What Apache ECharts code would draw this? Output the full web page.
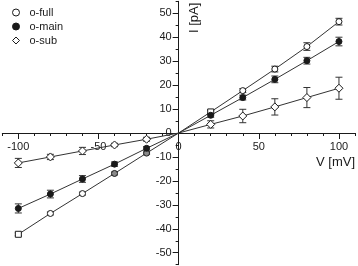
<!DOCTYPE html>
<html>
<head>
<meta charset="utf-8">
<script src="https://cdn.jsdelivr.net/npm/echarts@6/dist/echarts.min.js"></script>
<style>html,body{margin:0;padding:0;background:#fff}#iv{width:358px;height:266px}</style>
</head>
<body>
<div id="iv"></div>
<script>
// clamp voltages (mV) and mean currents (pA) +- error
const voltages = [-100, -80, -60, -40, -20, 20, 40, 60, 80, 100];
const fullI = [-42.3, -33.6, -25.3, -16.9, -8.4, 8.8, 17.7, 26.7, 36.1, 46.5];
const fullErr = [0.6, 0.6, 0.6, 0.6, 0.5, 0.7, 0.8, 1.2, 1.6, 1.4];
const mainI = [-31.5, -25.5, -19.2, -13.0, -6.4, 7.4, 14.8, 22.4, 30.2, 38.2];
const mainErr = [1.9, 1.6, 1.4, 0.9, 0.7, 0.8, 1.0, 1.4, 1.4, 1.8];
const subI = [-12.5, -10.0, -7.5, -5.0, -2.6, 3.6, 7.1, 10.9, 14.8, 18.7];
const subErr = [1.9, 1.1, 1.5, 0.7, 0.8, 1.5, 2.8, 3.4, 4.2, 4.6];
const xTicks = [-100, -50, 0, 50, 100];
const yTicks = [-50, -40, -30, -20, -10, 0, 10, 20, 30, 40, 50];

const font = "'Liberation Sans', Arial, sans-serif";
const ink = '#1a1a1a';

// grid box; axes are moved onto the zero lines with an offset
const W = 358, H = 266;
const G = {left: 2.3, right: 3, top: 1.3, bottom: 1.3};
const xShift = -(H - G.top - G.bottom) / 2;   // x axis from bottom edge up to I = 0
const yShift = -(W - G.left - G.right) / 2;   // y axis from left edge right to V = 0

function pts(ys) {
  return voltages.map((v, i) => [v, ys[i]]);
}
// line goes through the origin
function linePts(ys) {
  const p = pts(ys);
  const k = voltages.findIndex((v) => v > 0);
  p.splice(k, 0, [0, 0]);
  return p;
}
function errorSeries(ys, errs) {
  return {
    type: 'custom',
    silent: true,
    z: 3,
    encode: {x: 0, y: [1, 2]},
    data: voltages.map((v, i) => [v, ys[i] - errs[i], ys[i] + errs[i]]),
    renderItem: function (params, api) {
      const lo = api.coord([api.value(0), api.value(1)]);
      const hi = api.coord([api.value(0), api.value(2)]);
      const w = 3.5;
      const st = {stroke: '#333', lineWidth: 1};
      return {
        type: 'group',
        children: [
          {type: 'line', shape: {x1: lo[0], y1: lo[1], x2: hi[0], y2: hi[1]}, style: st},
          {type: 'line', shape: {x1: lo[0] - w, y1: lo[1], x2: lo[0] + w, y2: lo[1]}, style: st},
          {type: 'line', shape: {x1: hi[0] - w, y1: hi[1], x2: hi[0] + w, y2: hi[1]}, style: st}
        ]
      };
    }
  };
}
function fitLine(ys) {
  return {
    type: 'line',
    data: linePts(ys),
    symbol: 'none',
    silent: true,
    z: 2,
    lineStyle: {color: '#333', width: 1}
  };
}
const onTick = (list) => (v) => (list.indexOf(v) >= 0 ? String(v) : '');

const myChart = echarts.init(document.getElementById('iv'));
myChart.setOption({
  animation: false,
  backgroundColor: '#fff',
  grid: Object.assign({containLabel: false, outerBoundsMode: 'none'}, G),
  legend: {
    orient: 'vertical',
    left: 7,
    top: 2,
    itemWidth: 7,
    itemHeight: 7,
    itemGap: 3,
    textStyle: {fontSize: 11, color: ink, fontFamily: font, padding: [0, 0, 0, 5]},
    data: [
      {name: 'o-full', icon: 'circle', itemStyle: {color: '#fff', borderColor: ink, borderWidth: 1}},
      {name: 'o-main', icon: 'circle', itemStyle: {color: ink, borderColor: ink, borderWidth: 1}},
      {name: 'o-sub', icon: 'diamond', itemStyle: {color: '#fff', borderColor: ink, borderWidth: 1}}
    ]
  },
  xAxis: [
    {
      type: 'value', min: -110, max: 110, interval: 10, position: 'bottom', offset: xShift,
      axisLine: {onZero: false, lineStyle: {color: ink, width: 1}},
      axisTick: {length: 3, lineStyle: {color: ink}},
      axisLabel: {formatter: onTick(xTicks), margin: 8, color: ink, fontSize: 11, fontFamily: font},
      splitLine: {show: false}
    },
    {
      type: 'value', min: -110, max: 110, position: 'top', offset: xShift,
      axisLine: {show: false, onZero: false},
      axisTick: {inside: true, length: 6, customValues: xTicks, lineStyle: {color: ink}},
      axisLabel: {show: false},
      splitLine: {show: false}
    }
  ],
  yAxis: [
    {
      type: 'value', min: -55, max: 55, interval: 5, position: 'left', offset: yShift,
      axisLine: {onZero: false, lineStyle: {color: ink, width: 1}},
      axisTick: {length: 3, lineStyle: {color: ink}},
      axisLabel: {formatter: onTick(yTicks), margin: 7, color: ink, fontSize: 11, fontFamily: font},
      splitLine: {show: false}
    },
    {
      type: 'value', min: -55, max: 55, position: 'right', offset: yShift,
      axisLine: {show: false, onZero: false},
      axisTick: {inside: true, length: 6, customValues: yTicks, lineStyle: {color: ink}},
      axisLabel: {show: false},
      splitLine: {show: false}
    }
  ],
  graphic: [
    {type: 'text', x: 201, y: 33, rotation: Math.PI / 2,
      style: {text: 'I [pA]', fill: ink, fontSize: 13, fontFamily: font, textAlign: 'left', textVerticalAlign: 'bottom'}},
    {type: 'text', x: 355, y: 162,
      style: {text: 'V [mV]', fill: ink, fontSize: 13, fontFamily: font, textAlign: 'right', textVerticalAlign: 'middle'}}
  ],
  series: [
    fitLine(fullI), fitLine(mainI), fitLine(subI),
    errorSeries(fullI, fullErr), errorSeries(mainI, mainErr), errorSeries(subI, subErr),
    {
      name: 'o-full', type: 'scatter', z: 5, data: pts(fullI), symbolSize: 6,
      symbol: (v) => (v[0] === -100 || v[0] === 20 ? 'rect' : 'circle'),
      itemStyle: {
        color: (p) => (p.value[0] === -40 || p.value[0] === -20 ? '#8a8a8a' : '#fff'),
        borderColor: ink, borderWidth: 1, opacity: 1
      }
    },
    {
      name: 'o-main', type: 'scatter', z: 5, data: pts(mainI), symbolSize: 6, symbol: 'circle',
      itemStyle: {color: ink, borderColor: ink, borderWidth: 1, opacity: 1}
    },
    {
      name: 'o-sub', type: 'scatter', z: 5, data: pts(subI), symbolSize: 8, symbol: 'diamond',
      itemStyle: {color: '#fff', borderColor: ink, borderWidth: 1, opacity: 1}
    }
  ]
});
</script>
</body>
</html>
